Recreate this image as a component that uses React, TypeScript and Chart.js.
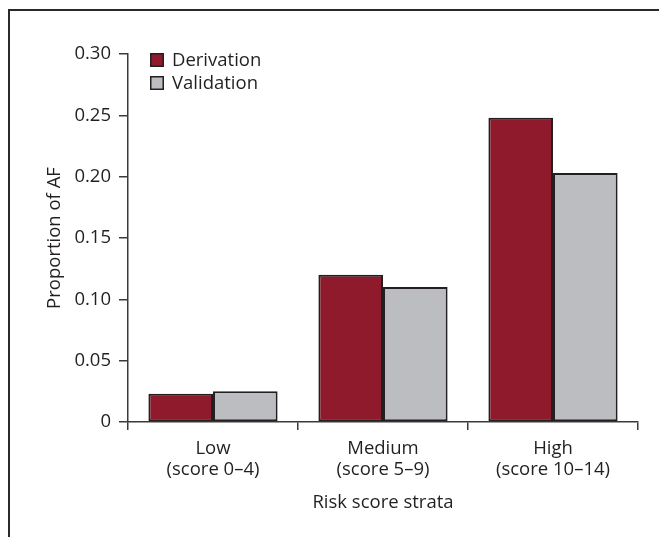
import React, { useEffect, useRef } from "react";
import { Chart, registerables } from "chart.js";

Chart.register(...registerables);

const categories: string[][] = [
  ["Low", "(score 0–4)"],
  ["Medium", "(score 5–9)"],
  ["High", "(score 10–14)"],
];
const derivation: number[] = [0.023, 0.12, 0.248];
const validation: number[] = [0.025, 0.11, 0.203];
const seriesNames: string[] = ["Derivation", "Validation"];
const yTitle = "Proportion of AF";
const xTitle = "Risk score strata";

const FONT = "'Open Sans', 'Noto Sans', sans-serif";
const FS = 18.5;
const TEXT = "#231F20";
const AXIS = "#3a3a3a";
const RED = "#8E1A2B";
const GREY = "#BCBDC1";
const EDGE = "#231F20";

const framePlugin = {
  id: "frame",
  beforeDraw(chart: any) {
    const ctx = chart.ctx;
    ctx.save();
    ctx.strokeStyle = "#2a2a2a";
    ctx.lineWidth = 2;
    ctx.beginPath();
    ctx.moveTo(1, chart.height);
    ctx.lineTo(1, 2);
    ctx.lineTo(chart.width, 2);
    ctx.stroke();
    ctx.restore();
  },
};

const legendPlugin = {
  id: "customLegend",
  afterDraw(chart: any) {
    const ctx = chart.ctx;
    ctx.save();
    ctx.font = `${FS}px ${FONT}`;
    ctx.textBaseline = "middle";
    ctx.textAlign = "left";
    chart.data.datasets.forEach((ds: any, i: number) => {
      const x = 142;
      const y = 45 + i * 23;
      ctx.fillStyle = ds.backgroundColor;
      ctx.fillRect(x, y, 14, 14);
      ctx.strokeStyle = EDGE;
      ctx.lineWidth = 1.5;
      ctx.strokeRect(x + 0.75, y + 0.75, 12.5, 12.5);
      ctx.fillStyle = TEXT;
      ctx.fillText(ds.label, 164, y + 7.5);
    });
    ctx.restore();
  },
};

export default function App() {
  const ref = useRef<HTMLCanvasElement | null>(null);
  useEffect(() => {
    if (!ref.current) return;
    const chart = new Chart(ref.current, {
      type: "bar",
      data: {
        labels: categories,
        datasets: [
          {
            label: seriesNames[0],
            data: derivation,
            backgroundColor: RED,
            borderColor: EDGE,
            borderWidth: 2,
            borderSkipped: false,
          },
          {
            label: seriesNames[1],
            data: validation,
            backgroundColor: GREY,
            borderColor: EDGE,
            borderWidth: 2,
            borderSkipped: false,
          },
        ],
      },
      options: {
        responsive: false,
        animation: false,
        layout: { padding: { left: 0, top: 46, right: 29, bottom: 0 } },
        datasets: { bar: { barPercentage: 1, categoryPercentage: 0.76 } },
        plugins: {
          legend: { display: false },
          tooltip: { enabled: false },
        },
        scales: {
          x: {
            afterFit: (s: any) => {
              s.height = 115;
            },
            border: { display: true, color: AXIS, width: 1.5 },
            grid: {
              offset: true,
              drawOnChartArea: false,
              drawTicks: true,
              tickLength: 8,
              color: AXIS,
              lineWidth: 1.5,
            },
            ticks: {
              color: TEXT,
              font: { family: FONT, size: FS, lineHeight: 1.16 },
              padding: 8,
              maxRotation: 0,
            },
            title: {
              display: true,
              text: xTitle,
              color: TEXT,
              font: { family: FONT, size: FS, lineHeight: 1.2 },
              padding: { top: 0, bottom: 23 },
            },
          },
          y: {
            min: 0,
            max: 0.3,
            afterFit: (s: any) => {
              s.width = 120;
            },
            border: { display: true, color: AXIS, width: 1.5 },
            grid: {
              drawOnChartArea: false,
              drawTicks: true,
              tickLength: 9,
              color: AXIS,
              lineWidth: 1.5,
            },
            ticks: {
              stepSize: 0.05,
              color: TEXT,
              font: { family: FONT, size: FS },
              padding: 8,
              callback: (v: any) => (Number(v) === 0 ? "0" : Number(v).toFixed(2)),
            },
            title: {
              display: true,
              text: yTitle,
              color: TEXT,
              font: { family: FONT, size: FS, lineHeight: 1.2 },
              padding: { top: 36, bottom: 0 },
            },
          },
        },
      },
      plugins: [framePlugin, legendPlugin],
    });
    return () => chart.destroy();
  }, []);
  return (
    <canvas
      ref={ref}
      width={659}
      height={529}
      style={{ display: "block", width: 659, height: 529 }}
    />
  );
}
